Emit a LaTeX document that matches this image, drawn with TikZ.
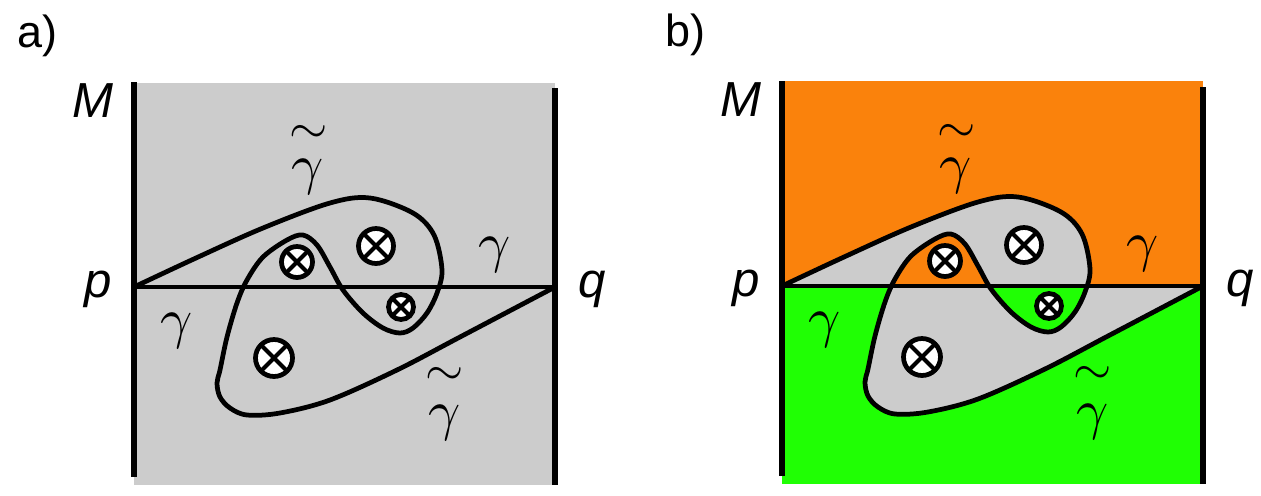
\documentclass[tikz,border=0pt]{standalone}
\usepackage{fontspec}
\newfontfamily\arial{Liberation Sans}
\definecolor{bggray}{RGB}{204,204,204}
\definecolor{regorange}{RGB}{250,130,12}
\definecolor{reggreen}{RGB}{32,255,4}
% 曲线 gamma~ 的路径点 (以 p 为原点)
\newcommand{\gtpath}{plot[smooth, tension=0.55] coordinates {(0,0) (62,29) (129,59) (196,84) (236,89) (279,74) (300,52) (308,17) (303,-6) (293,-26) (279,-41) (266,-46) (249,-41) (229,-26) (209,-3) (196,20) (183,42) (169,52) (153,47) (129,30) (113,7) (103,-16) (93,-50) (86,-83) (83,-96) (86,-110) (96,-121) (113,-128) (146,-126) (196,-113) (263,-83) (326,-50) (421,0)}}
\begin{document}
\begin{tikzpicture}[x=0.02cm, y=0.02cm, thick,
    curve/.style={line width=2.7pt, line join=round},
    wall/.style={line width=3pt},
    hole/.style={circle, draw, fill=white, line width=2.7pt, inner sep=0pt,
      path picture={\draw[line width=2.3pt] (path picture bounding box.north west) -- (path picture bounding box.south east)
        (path picture bounding box.north east) -- (path picture bounding box.south west);}},
    sanslab/.style={font=\arial\itshape, scale=2.8, inner sep=0pt, anchor=base},
    gamlab/.style={scale=3.2, inner sep=0pt, anchor=base},
    tildelab/.style={scale=2.8, inner sep=0pt}]
  \useasboundingbox (-134,-208) rectangle (1127,287);

  % 面板 a 的灰色底
  \fill[bggray] (0,-198) rectangle (421,204);

  % 面板 b 的着色区域 (灰色为 gamma 与 gamma~ 之间)
  \begin{scope}[shift={(648,1)}]
    \fill[regorange] (0,0) rectangle (421,205);
    \fill[reggreen] (0,-198) rectangle (421,0);
    \fill[bggray, even odd rule] \gtpath -- cycle;
  \end{scope}

  % 两个面板共用的曲线、穿孔与标注
  \foreach \s/\dx/\dy in {a/0/0, b/648/1} {
    \begin{scope}[shift={(\dx,\dy)}]
      \coordinate (\s-P) at (0,0);
      \coordinate (\s-Q) at (421,0);
      \draw[wall] (0,205) -- (0,-190);
      \draw[wall] (421,199) -- (421,-198);
      \draw[curve] (\s-P) -- (\s-Q);
      \draw[curve] \gtpath;

      \node[hole, minimum size=0.62cm] (\s-h1) at (163,25) {};
      \node[hole, minimum size=0.7cm] (\s-h2) at (242,41) {};
      \node[hole, minimum size=0.5cm] (\s-h3) at (267,-20) {};
      \node[hole, minimum size=0.74cm] (\s-h4) at (140,-71) {};

      \node[font=\arial, scale=2.56, inner sep=0pt, anchor=base west] (\s-tag) at (-118,240) {\s)};
      \node[sanslab] (\s-M) at (-41,170) {M};
      \node[sanslab] (\s-p) at (-36,-10) {p};
      \node[sanslab] (\s-q) at (458,-10) {q};

      % gamma~ 的波浪号单独放在 gamma 上方
      \node[gamlab] (\s-gt1) at (174,104) {$\gamma$};
      \node[tildelab] (\s-tl1) at (175,153) {$\sim$};
      \node[gamlab] (\s-gt2) at (311,-142) {$\gamma$};
      \node[tildelab] (\s-tl2) at (311,-89) {$\sim$};
      \node[gamlab] (\s-g1) at (361,26) {$\gamma$};
      \node[gamlab] (\s-g2) at (43,-50) {$\gamma$};
    \end{scope}
  }
\end{tikzpicture}
\end{document}
